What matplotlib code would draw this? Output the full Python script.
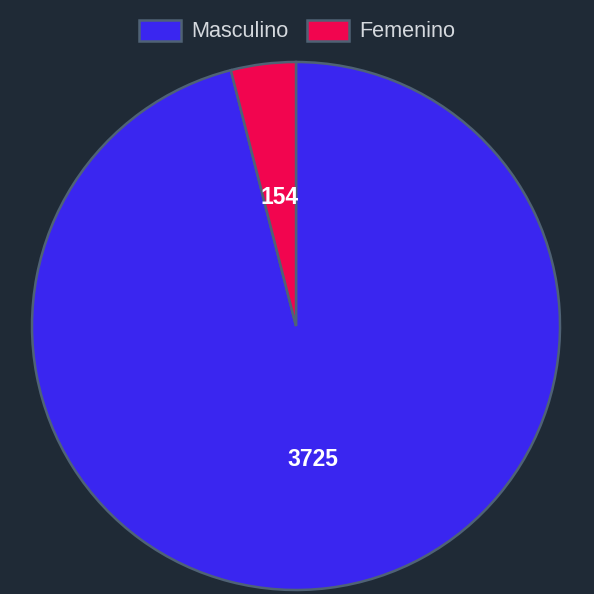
import matplotlib
matplotlib.use("Agg")
import matplotlib.pyplot as plt
from matplotlib.patches import Patch
import numpy as np

labels = ["Masculino", "Femenino"]
values = [3725, 154]
colors = ["#3a26f0", "#f2054f"]

bg = "#1f2a36"
edge = "#4f6275"

fig = plt.figure(figsize=(5.94, 5.94), dpi=100, facecolor=bg)
W = H = 594
cx, cy, r = 296, 326, 264
ax = fig.add_axes([(cx - r) / W, (H - cy - r) / H, 2 * r / W, 2 * r / H])
ax.set_facecolor(bg)

wedges, _ = ax.pie(values, colors=colors, startangle=90, counterclock=False,
                   radius=1, wedgeprops=dict(edgecolor=edge, linewidth=1.8))
ax.set_xlim(-1, 1)
ax.set_ylim(-1, 1)
ax.set_aspect("equal")
ax.axis("off")

total = sum(values)
start = 90.0
for v in values:
    sweep = v / total * 360
    mid = np.deg2rad(start - sweep / 2)
    ax.text(0.5 * np.cos(mid), 0.5 * np.sin(mid) - 0.01, str(v), ha="center", va="center",
            color="white", fontsize=16.5, fontweight="bold", family="Liberation Sans")
    start -= sweep

handles = [Patch(facecolor=c, edgecolor=edge, linewidth=1.8) for c in colors]
leg = fig.legend(handles, labels, loc="center", bbox_to_anchor=(0.5, 1 - 31 / H),
                 ncol=2, frameon=False, handlelength=1.95, handleheight=1.12,
                 handletextpad=0.45, columnspacing=0.85,
                 prop=dict(family="Liberation Sans", size=15.6))
for t in leg.get_texts():
    t.set_color("#d5d9de")

fig.savefig("out.png", dpi=100, facecolor=bg)
